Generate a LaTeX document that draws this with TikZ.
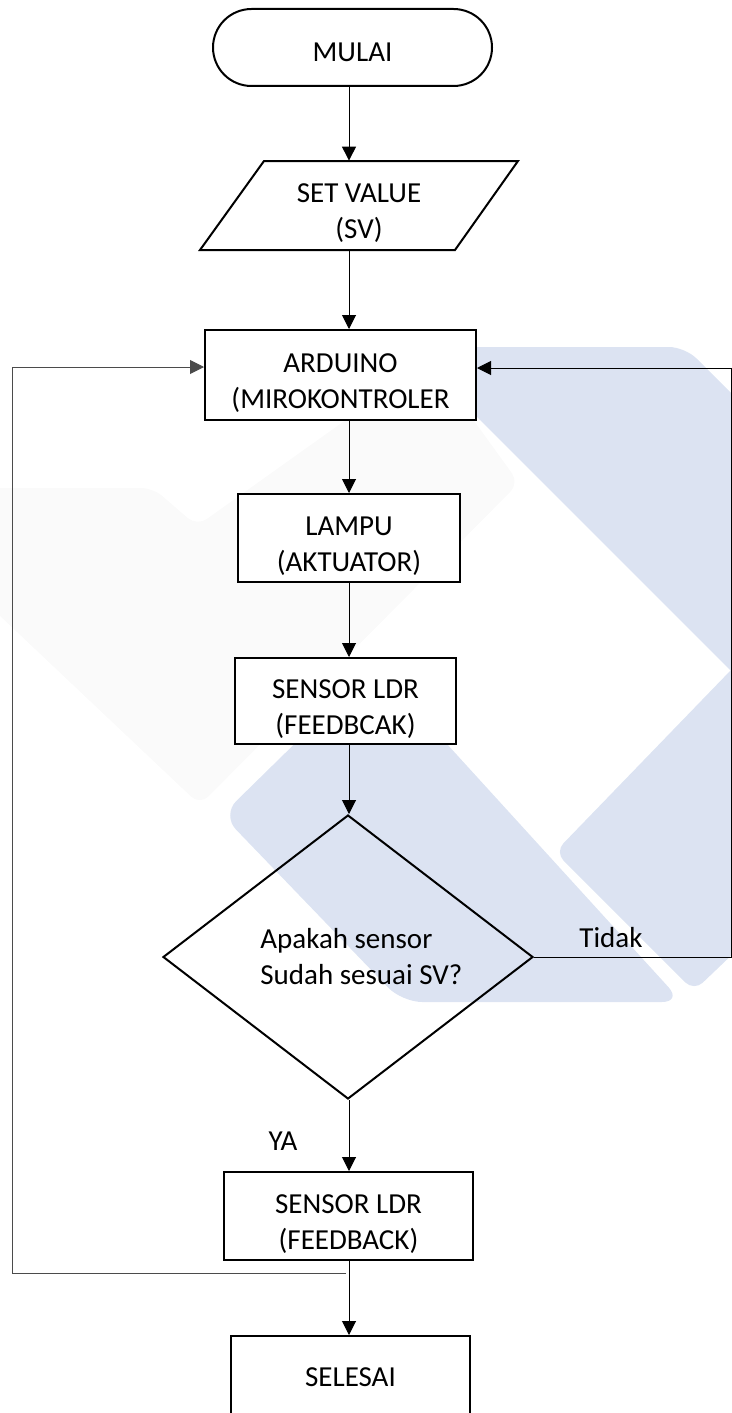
\documentclass[tikz,border=0pt]{standalone}
\usepackage{fontspec}
\setmainfont{Carlito}
\usetikzlibrary{arrows.meta,shapes.geometric}
\definecolor{wmblue}{RGB}{220,227,242}
\definecolor{wmgray}{RGB}{250,250,250}
\definecolor{loopgray}{RGB}{75,75,75}
\begin{document}
\begin{tikzpicture}[x=0.5pt,y=-0.5pt,
  font=\fontsize{14.5pt}{18pt}\selectfont,
  box/.style={draw, line width=1pt, fill=white, align=center, inner sep=0pt},
  twoline/.style={text height=33pt, text depth=0pt},
  oneline/.style={text height=14.5pt, text depth=0pt},
  conn/.style={line width=0.5pt, -{Triangle[length=7pt,width=7pt]}},
  lbl/.style={inner sep=0pt}]
\useasboundingbox (0,0) rectangle (732,1413);
% watermark
\fill[wmgray, rounded corners=6pt] (-20,488) -- (153,488) -- (197,526) -- (430,360) -- (519,483) -- (200,805) -- (-20,597) -- cycle;
\fill[wmblue, rounded corners=8pt] (445,347) -- (685,347) -- (760,422) -- (760,700) -- (435,375) -- (435,352) -- cycle;
\fill[wmblue, rounded corners=6pt] (760,640) -- (555,852) -- (694,991) -- (760,928) -- cycle;
\fill[wmblue, rounded corners=10pt] (222,815) -- (375,665) -- (682,1002) -- (402,1002) -- cycle;
% nodes
\coordinate (ax) at (349,0);
\node[box, oneline, rounded corners=19.25pt, minimum width=139.5pt, minimum height=38.5pt] (mulai) at (352.5,47.5) {MULAI};
\draw[line width=1pt, fill=white] (264,161) -- (518,161) -- (455,250) -- (200,250) -- cycle;
\node[lbl, twoline, align=center, minimum width=127pt, minimum height=44.5pt] (sv) at (359,205.5) {SET VALUE\\(SV)};
\node[box, twoline, minimum width=135.5pt, minimum height=45pt] (ard) at (340.5,375) {ARDUINO\\(MIROKONTROLER};
\node[box, twoline, minimum width=111pt, minimum height=44pt] (lampu) at (349,538) {LAMPU\\(AKTUATOR)};
\node[box, twoline, minimum width=110.5pt, minimum height=43pt] (ldr1) at (345.5,701) {SENSOR LDR\\(FEEDBCAK)};
\node[diamond, draw, line width=1pt, minimum width=185pt, minimum height=142pt, inner sep=0pt] (dec) at (348,957) {};
\node[lbl, align=left, anchor=west] (q) at (260,957) {Apakah sensor\\Sudah sesuai SV?};
\node[box, twoline, minimum width=124.5pt, minimum height=44pt] (ldr2) at (348.5,1216) {SENSOR LDR\\(FEEDBACK)};
\node[box, minimum width=119.5pt, minimum height=41pt] (sel) at (350.5,1377) {SELESAI};
\node[lbl] (tidak) at (611,938) {Tidak};
\node[lbl] (ya) at (283,1141) {YA};
% connectors
\draw[conn] (mulai.south -| ax) -- (sv.north -| ax);
\draw[conn] (sv.south -| ax) -- (ard.north -| ax);
\draw[conn] (ard.south -| ax) -- (lampu.north -| ax);
\draw[conn] (lampu.south -| ax) -- (ldr1.north -| ax);
\draw[conn] (ldr1.south -| ax) -- (dec.north -| ax);
\draw[conn] (dec.south -| ax) -- (ldr2.north -| ax);
\draw[conn] (ldr2.south -| ax) -- (sel.north -| ax);
\coordinate (jn) at (346,1273);
\coordinate (lft) at (12.6,367);
\coordinate (rgt) at (731,368);
\draw[conn, loopgray] (jn) -| (lft) -- (lft -| ard.west);
\draw[conn] (dec.east) -- (dec.east -| rgt) -- (rgt) -- (rgt -| ard.east);
\end{tikzpicture}
\end{document}
